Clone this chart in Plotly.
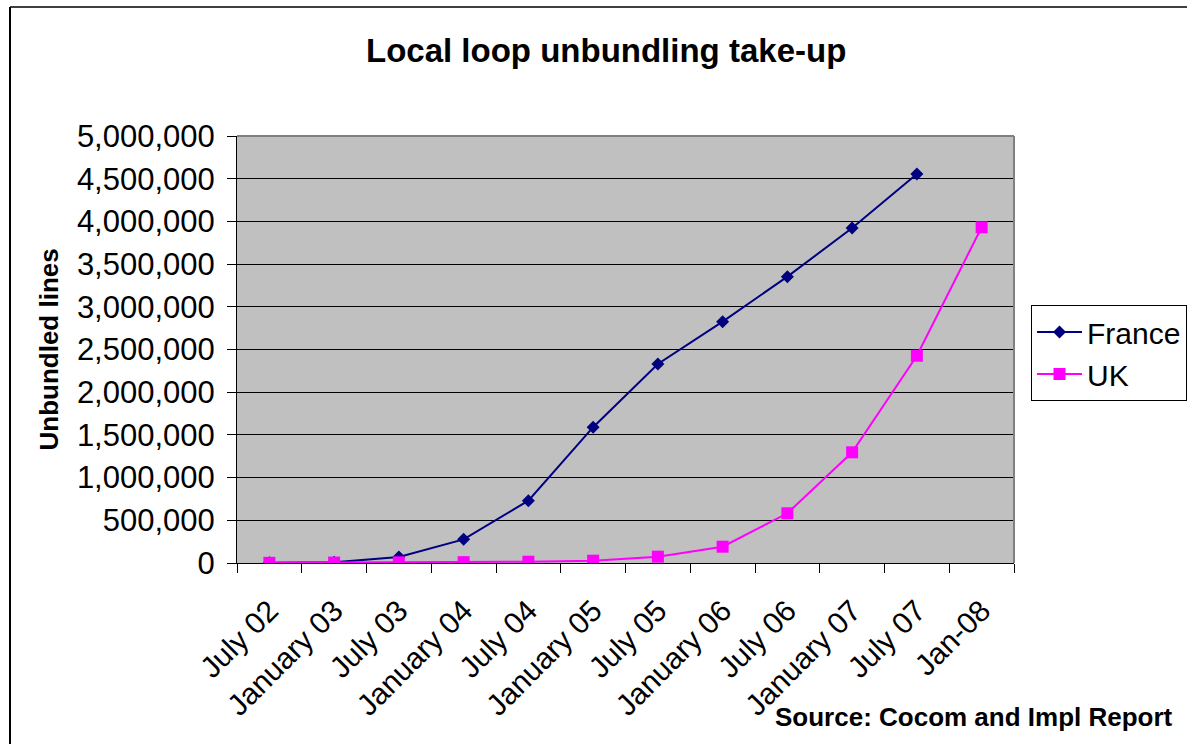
import plotly.graph_objects as go

# Half-yearly snapshots of unbundled local loops
periods = ["July 02", "January 03", "July 03", "January 04", "July 04", "January 05",
           "July 05", "January 06", "July 06", "January 07", "July 07", "Jan-08"]
france = [2000, 8000, 70000, 277000, 730000, 1590000, 2330000, 2826000,
          3353000, 3923000, 4555000, None]
uk = [2000, 5000, 8000, 10000, 15000, 27000, 74000, 191000,
      582000, 1296000, 2427000, 3931000]
y_ticks = list(range(0, 5000001, 500000))

W, H = 1187, 744
L, R, T, B = 237, 173, 136, 181
pw, ph = W - L - R, H - T - B

def px_x(x):
    return (x - L) / pw

def px_y(y):
    return (H - B - y) / ph

FONT = "Liberation Sans, Arial, sans-serif"

fig = go.Figure()
fig.add_trace(go.Scatter(
    x=periods, y=france, name="France", mode="lines+markers",
    line=dict(color="#000080", width=2),
    marker=dict(symbol="diamond", size=10, color="#000080"),
))
fig.add_trace(go.Scatter(
    x=periods, y=uk, name="UK", mode="lines+markers",
    line=dict(color="#FF00FF", width=2),
    marker=dict(symbol="square", size=12, color="#FF00FF"),
))

fig.update_layout(
    template="none",
    width=W, height=H, autosize=False,
    margin=dict(l=L, r=R, t=T, b=B, autoexpand=False),
    paper_bgcolor="white",
    plot_bgcolor="#C0C0C0",
    font=dict(family=FONT, color="black", size=28),
    showlegend=True,
    legend=dict(
        x=px_x(1031), y=px_y(305), xanchor="left", yanchor="top",
        bgcolor="white", bordercolor="black", borderwidth=1,
        font=dict(family=FONT, size=30, color="black"),
        itemwidth=45, tracegroupgap=0,
    ),
    xaxis=dict(
        type="category", categoryorder="array", categoryarray=periods,
        range=[-0.5, len(periods) - 0.5],
        showgrid=False, zeroline=False,
        showline=True, linecolor="black", linewidth=1,
        ticks="outside", tickson="boundaries", ticklen=9,
        tickcolor="black", tickwidth=1,
        tickangle=-45, tickfont=dict(family=FONT, size=30),
        ticklabelstandoff=17,
        automargin=False,
    ),
    yaxis=dict(
        range=[0, 5000000], tickvals=y_ticks, tickformat=",",
        showgrid=True, gridcolor="black", gridwidth=1,
        zeroline=False,
        showline=True, linecolor="black", linewidth=1,
        ticks="outside", ticklen=9, tickcolor="black", tickwidth=1,
        tickfont=dict(family=FONT, size=31),
        ticklabelstandoff=6,
        automargin=False,
    ),
)

# Title, axis title and source note
fig.add_annotation(
    text="<b>Local loop unbundling take-up</b>",
    xref="paper", yref="paper", x=px_x(606), y=px_y(50),
    xanchor="center", yanchor="middle", showarrow=False,
    font=dict(family=FONT, size=33, color="black"),
)
fig.add_annotation(
    text="<b>Unbundled lines</b>",
    xref="paper", yref="paper", x=px_x(48), y=0.5, textangle=-90,
    xanchor="center", yanchor="middle", showarrow=False,
    font=dict(family=FONT, size=26, color="black"),
)
fig.add_annotation(
    text="<b>Source: Cocom and Impl Report</b>",
    xref="paper", yref="paper", x=px_x(1175), y=px_y(717),
    xanchor="right", yanchor="middle", showarrow=False,
    font=dict(family=FONT, size=26, color="black"),
)

# Plot-area frame (top and right) and the outer chart border
fig.add_shape(type="line", xref="paper", yref="paper", x0=0, x1=1, y0=1, y1=1,
              line=dict(color="#808080", width=2))
fig.add_shape(type="line", xref="paper", yref="paper", x0=1, x1=1, y0=0, y1=1,
              line=dict(color="#808080", width=2))
fig.add_shape(type="line", xref="paper", yref="paper",
              x0=px_x(10), x1=px_x(1200), y0=px_y(7), y1=px_y(7),
              line=dict(color="#404040", width=2))
fig.add_shape(type="line", xref="paper", yref="paper",
              x0=px_x(10), x1=px_x(10), y0=px_y(7), y1=px_y(760),
              line=dict(color="black", width=2))

fig.write_html("out.html")
